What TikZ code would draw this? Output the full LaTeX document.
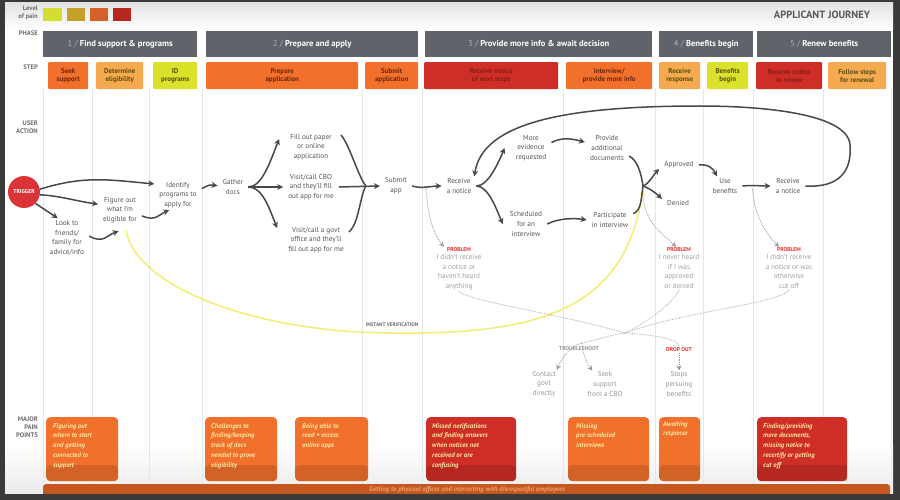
\documentclass[tikz,border=0pt]{standalone}
\usepackage{fontspec}
\setmainfont{PT Sans}
\usepackage{xcolor}
\definecolor{framegray}{RGB}{58,58,58}
\definecolor{phasegray}{RGB}{96,100,106}
\definecolor{phasenum}{RGB}{170,175,180}
\definecolor{lanegray}{RGB}{226,231,236}
\definecolor{painorange}{RGB}{240,112,44}
\definecolor{painlight}{RGB}{246,170,80}
\definecolor{painlime}{RGB}{218,226,44}
\definecolor{painred}{RGB}{206,46,38}
\definecolor{swatchlime}{RGB}{212,222,48}
\definecolor{swatchmustard}{RGB}{196,160,40}
\definecolor{swatchorange}{RGB}{214,96,40}
\definecolor{swatchred}{RGB}{182,40,32}
\definecolor{arrowgray}{RGB}{72,72,72}
\definecolor{actgray}{RGB}{85,85,85}
\definecolor{issuegray}{RGB}{160,160,160}
\definecolor{hintgray}{RGB}{150,150,150}
\definecolor{rowgray}{RGB}{110,110,110}
\definecolor{titlegray}{RGB}{90,90,90}
\definecolor{problemred}{RGB}{230,50,40}
\definecolor{triggerred}{RGB}{218,52,56}
\definecolor{verifyyellow}{RGB}{244,238,120}
\definecolor{verifytip}{RGB}{226,220,60}
\definecolor{creamtext}{RGB}{252,232,160}
\definecolor{barorange}{RGB}{196,88,30}
\definecolor{bartext}{RGB}{236,160,110}
\definecolor{stepdark}{RGB}{110,40,12}
\definecolor{stepolive}{RGB}{90,80,16}
\definecolor{stepred}{RGB}{140,28,20}
\usepackage{tikz}
\usetikzlibrary{arrows.meta}

\newcommand{\actfont}{\fontsize{7.2}{9.7}\selectfont}
\newcommand{\stepfont}{\bfseries\fontsize{7}{8.2}\selectfont}
\newcommand{\painfont}{\bfseries\itshape\fontsize{6.8}{9.8}\selectfont}
\newcommand{\tagfont}{\bfseries\fontsize{5.6}{6}\selectfont}
\newcommand{\rowfont}{\bfseries\fontsize{6.6}{8}\selectfont}
\newcommand{\phasefont}{\bfseries\fontsize{8.6}{10}\selectfont}

\begin{document}
\begin{tikzpicture}[x=1pt, y=-1pt, >=Stealth,
    flow/.style={->, line width=1.5pt, draw=arrowgray, >={Stealth[length=6pt,width=6pt]}},
    flowline/.style={line width=1.5pt, draw=arrowgray},
    hint/.style={->, densely dotted, line width=0.8pt, draw=hintgray, >={Stealth[length=5pt,width=5pt]}},
    hintline/.style={densely dotted, line width=0.8pt, draw=hintgray!80},
    verify/.style={->, line width=1.6pt, draw=verifyyellow, >={Stealth[length=7pt,width=6pt,fill=verifytip]}},
    lane/.style={draw=lanegray, line width=1pt},
    act/.style={font=\actfont, text=actgray, align=center, inner xsep=5pt, inner ysep=2pt},
    issue/.style={font=\actfont, text=issuegray, align=center, inner sep=1pt},
    tag/.style={font=\tagfont, inner sep=1pt},
    rowlabel/.style={font=\rowfont, text=rowgray, align=right, anchor=north east, inner sep=0pt},
    phasebar/.style={anchor=north west, fill=phasegray, text=white, font=\phasefont, minimum height=26pt, inner sep=0pt},
    stepbox/.style={anchor=north west, minimum height=27pt, inner sep=0pt, align=center, font=\stepfont, rounded corners=1pt},
    painbox/.style={anchor=north west, minimum height=64pt, inner sep=0pt, rounded corners=4pt,
      path picture={\fill[black, opacity=0.12] ([yshift=16pt]path picture bounding box.south west) rectangle (path picture bounding box.south east);}},
    paintext/.style={anchor=north west, align=left, font=\painfont, text=creamtext, inner sep=0pt}]
    \useasboundingbox (0,0) rectangle (900,500);
    \fill[framegray] (0,0) rectangle (900,500);
    \fill[white] (5,3) rectangle (893,494);
    \shade[top color=gray!22, bottom color=white] (5,3) rectangle (893,30);
    \shade[top color=white, bottom color=gray!16] (5,445) rectangle (893,494);
    \draw[lane] (43,89) -- (43,484) (92,89) -- (92,484) (149,89) -- (149,484) (202,89) -- (202,484)
      (362,89) -- (362,484) (422,89) -- (422,484) (563,89) -- (563,484) (655,89) -- (655,484)
      (703,89) -- (703,484) (753,89) -- (753,484) (823,89) -- (823,484) (891,89) -- (891,484);

    \node[rowlabel] (painlabel) at (38,6) {Level\\of pain};
    \fill[swatchlime] (43,8) rectangle (62,21);
    \fill[swatchmustard] (67,8) rectangle (85,21);
    \fill[swatchorange] (90,8) rectangle (108,21);
    \fill[swatchred] (113,8) rectangle (131,21);
    \node[font=\bfseries\fontsize{10.5}{12}\selectfont, text=titlegray] (title) at (822,15) {APPLICANT JOURNEY};

    \node[rowlabel] (phaselabel) at (38,31) {PHASE};
    \node[rowlabel] (steplabel) at (38,65) {STEP};
    \node[rowlabel] (actionlabel) at (38,121) {USER\\ACTION};
    \node[rowlabel] (majorlabel) at (38,417) {MAJOR\\PAIN\\POINTS};

    \node[phasebar, minimum width=154pt] (phase1) at (43,31) {{\color{phasenum}\mdseries 1 /} Find support \& programs};
    \node[phasebar, minimum width=212pt] (phase2) at (206,31) {{\color{phasenum}\mdseries 2 /} Prepare and apply};
    \node[phasebar, minimum width=227pt] (phase3) at (425,31) {{\color{phasenum}\mdseries 3 /} Provide more info \& await decision};
    \node[phasebar, minimum width=94pt] (phase4) at (659,31) {{\color{phasenum}\mdseries 4 /} Benefits begin};
    \node[phasebar, minimum width=134pt] (phase5) at (757,31) {{\color{phasenum}\mdseries 5 /} Renew benefits};

    \node[stepbox, fill=painorange, text=stepdark, minimum width=40pt] (seek) at (48,62) {Seek\\support};
    \node[stepbox, fill=painlight, text=stepolive, minimum width=47pt] (determine) at (96,62) {Determine\\eligibility};
    \node[stepbox, fill=painlime, text=stepolive, minimum width=44pt] (idprog) at (153,62) {ID\\programs};
    \node[stepbox, fill=painorange, text=stepdark, minimum width=152pt] (prepare) at (206,62) {Prepare\\application};
    \node[stepbox, fill=painorange, text=stepdark, minimum width=53pt] (submitstep) at (365,62) {Submit\\application};
    \node[stepbox, fill=painred, text=stepred, minimum width=134pt] (noticestep) at (424,62) {Receive notice\\of next steps};
    \node[stepbox, fill=painorange, text=stepdark, minimum width=86pt] (interview) at (566,62) {Interview/\\provide more info};
    \node[stepbox, fill=painlight, text=stepolive, minimum width=41pt] (response) at (659,62) {Receive\\response};
    \node[stepbox, fill=painlime, text=stepolive, minimum width=41pt] (begin) at (707,62) {Benefits\\begin};
    \node[stepbox, fill=painred, text=stepred, minimum width=66pt] (renew) at (756,62) {Receive notice\\to renew};
    \node[stepbox, fill=painlight, text=stepolive, minimum width=58pt] (renewal) at (828,62) {Follow steps\\for renewal};

    \node[circle, fill=triggerred, minimum size=32pt, inner sep=0pt, text=white, font=\tagfont] (trigger) at (24,192) {TRIGGER};
    \node[act] (lookto) at (67,238) {Look to\\friends/\\family for\\advice/info};
    \node[act] (figure) at (120,210) {Figure out\\what I'm\\eligible for};
    \node[act] (identify) at (178,195) {Identify\\programs to\\apply for};
    \node[act] (gather) at (233,187) {Gather\\docs};
    \node[act] (fillout) at (311,147) {Fill out paper\\or online\\application};
    \node[act] (visitcbo) at (311,187) {Visit/call CBO\\and they'll fill\\out app for me};
    \node[act] (visitgov) at (316,240) {Visit/call a govt\\office and they'll\\fill out app for me};
    \node[act] (submit) at (396,186) {Submit\\app};
    \node[act] (notice1) at (459,186) {Receive\\a notice};
    \node[act] (evidence) at (531,148) {More\\evidence\\requested};
    \node[act] (scheduled) at (526,224) {Scheduled\\for an\\interview};
    \node[act] (provide) at (607,148) {Provide\\additional\\documents};
    \node[act] (participate) at (610,220) {Participate\\in interview};
    \node[act] (approved) at (679,165) {Approved};
    \node[act] (denied) at (678,203) {Denied};
    \node[act] (usebenefits) at (725,186) {Use\\benefits};
    \node[act] (notice2) at (788,186) {Receive\\a notice};

    \node[tag, text=problemred] (prob1) at (459,250) {PROBLEM};
    \node[issue, anchor=north] (issue1) at (prob1.south) {I didn't receive\\a notice or\\haven't heard\\anything};
    \node[tag, text=problemred] (prob2) at (679,250) {PROBLEM};
    \node[issue, anchor=north] (issue2) at (prob2.south) {I never heard\\if I was\\approved\\or denied};
    \node[tag, text=problemred] (prob3) at (789,250) {PROBLEM};
    \node[issue, anchor=north] (issue3) at (prob3.south) {I didn't receive\\a notice or was\\otherwise\\cut off};

    \node[tag, text=hintgray] (troubleshoot) at (579,349) {TROUBLESHOOT};
    \node[tag, text=problemred] (dropout) at (679,350) {DROP OUT};
    \node[issue, text=hintgray] (contact) at (544,384) {Contact\\govt\\directly};
    \node[issue, text=hintgray] (seekcbo) at (605,384) {Seek\\support\\from a CBO};
    \node[issue, text=hintgray] (stops) at (679,384) {Stops\\persuing\\benefits};

    \coordinate (join1) at ([xshift=-14pt]submit.west);
    \coordinate (decide) at (643,186);
    \coordinate (probsrc1) at ([xshift=14pt,yshift=-3pt]submit.east);
    \coordinate (probsrc3) at ([xshift=10pt,yshift=-3pt]usebenefits.east);
    \coordinate (loopright) at (850,145);
    \coordinate (looptop) at (700,106);
    \coordinate (verifylow) at (390,333);
    \coordinate (hub) at (625,333);
    \coordinate (tsplit) at (582,343);

    \draw[verify] ([xshift=2pt,yshift=-5pt]figure.-75) .. controls (135,285) and (250,332) .. (verifylow) .. controls (540,335) and (625,310) .. ([yshift=-3pt]decide);
    \node[tag, font=\bfseries\fontsize{5.2}{6}\selectfont, text=rowgray] (verifylabel) at (392,325) {INSTANT VERIFICATION};

    \draw[flow] (trigger.10) .. controls +(45,-14) and +(-45,-4) .. (identify.155);
    \draw[flow] (trigger.-10) .. controls +(20,1) and +(-22,-3) .. (figure.165);
    \draw[flow] (trigger.-45) -- (lookto.115);
    \draw[flow] (lookto.5) .. controls +(14,8) and +(-12,4) .. ([yshift=-6pt]figure.-95);
    \draw[flow] (figure.-15) .. controls +(14,6) and +(-10,4) .. (identify.-120);
    \draw[flow] (identify.15) .. controls +(8,-4) and +(-8,-1) .. (gather.175);
    \draw[flow] (gather.east) .. controls +(14,0) and +(-8,20) .. ([xshift=-6pt,yshift=8pt]fillout.west);
    \draw[flow] (gather.east) -- (visitcbo.west);
    \draw[flow] (gather.east) .. controls +(14,0) and +(-8,-20) .. ([xshift=-6pt,yshift=12pt]visitgov.west);
    \draw[flowline] ([xshift=4pt,yshift=12pt]fillout.east) .. controls +(8,8) and +(-8,-10) .. (join1);
    \draw[flow] (visitcbo.east) -- (submit.west);
    \draw[flowline] ([yshift=8pt]visitgov.east) .. controls +(10,-8) and +(-6,10) .. (join1);
    \draw[flow] (submit.east) .. controls +(10,3) and +(-10,0) .. (notice1.west);
    \draw[flow] (notice1.east) .. controls +(12,0) and +(-6,14) .. ([xshift=-6pt]evidence.west);
    \draw[flow] (notice1.east) .. controls +(12,0) and +(-6,-14) .. ([xshift=-2pt]scheduled.west);
    \draw[flow] (evidence.15) .. controls +(12,-6) and +(-12,-3) .. (provide.165);
    \draw[flow] (scheduled.east) .. controls +(12,-6) and +(-12,-2) .. (participate.west);
    \draw[flowline] (provide.-20) .. controls +(8,4) and +(-2,-14) .. (decide);
    \draw[flowline] (participate.15) .. controls +(8,-4) and +(-2,14) .. (decide);
    \draw[flow] (decide) .. controls +(6,-2) and +(-6,6) .. ([yshift=-4pt]approved.west);
    \draw[flow] (decide) .. controls +(6,2) and +(-6,-6) .. ([yshift=4pt]denied.west);
    \draw[flow] (approved.east) .. controls +(10,-1) and +(-4,-8) .. (usebenefits.130);
    \draw[flow] (usebenefits.east) .. controls +(10,-1) and +(-10,0) .. (notice2.west);
    \draw[flow] (notice2.east) .. controls +(35,2) and +(2,25) .. (loopright) .. controls +(-2,-32) and +(60,0) .. (looptop) .. controls +(-130,0) and +(8,-55) .. ([xshift=-2pt]notice1.north east);

    \draw[hint] (probsrc1) .. controls +(2,30) and +(-10,-12) .. ([xshift=-2pt]prob1.north west);
    \draw[hint] ([yshift=-10pt]decide) .. controls +(2,28) and +(-12,-12) .. ([xshift=-3pt]prob2.north);
    \draw[hint] (probsrc3) .. controls +(2,28) and +(-12,-12) .. ([xshift=-10pt]prob3.north);
    \draw[hintline] (issue1.south) .. controls +(10,10) and +(-60,-18) .. (hub);
    \draw[hintline] (issue2.south) .. controls +(-5,12) and +(25,-12) .. (hub);
    \draw[hintline] (issue3.south) .. controls +(-10,14) and +(60,-22) .. (hub);
    \draw[hintline] (hub) .. controls +(-15,2) and +(15,-3) .. (tsplit);
    \draw[hint] (tsplit) .. controls +(-12,3) and +(4,-10) .. (contact.north east);
    \draw[hint] (tsplit) .. controls +(0,8) and +(-6,-8) .. ([xshift=6pt]seekcbo.north west);
    \draw[hintline] (hub) .. controls +(30,2) and +(0,-8) .. (dropout.north);
    \draw[hint] (dropout.south) -- (stops.north);

    \node[painbox, fill=painorange, minimum width=72pt] (pain1) at (46,417) {};
    \node[paintext] (pain1text) at ([xshift=7pt,yshift=-6pt]pain1.north west) {Figuring out\\where to start\\and getting\\connected to\\support};
    \node[painbox, fill=painorange, minimum width=72pt] (pain2) at (205,417) {};
    \node[paintext] (pain2text) at ([xshift=6pt,yshift=-6pt]pain2.north west) {Challenges to\\finding/keeping\\track of docs\\needed to prove\\eligibility};
    \node[painbox, fill=painorange, minimum width=73pt] (pain3) at (295,417) {};
    \node[paintext] (pain3text) at ([xshift=7pt,yshift=-6pt]pain3.north west) {Being able to\\read + access\\online apps};
    \node[painbox, fill=painred, minimum width=90pt] (pain4) at (426,417) {};
    \node[paintext] (pain4text) at ([xshift=6pt,yshift=-6pt]pain4.north west) {Missed notifications\\and finding answers\\when notices not\\received or are\\confusing};
    \node[painbox, fill=painorange, minimum width=81pt] (pain5) at (568,417) {};
    \node[paintext] (pain5text) at ([xshift=8pt,yshift=-6pt]pain5.north west) {Missing\\pre-scheduled\\interviews};
    \node[painbox, fill=painorange, minimum width=41pt] (pain6) at (659,417) {};
    \node[paintext] (pain6text) at ([xshift=4pt,yshift=-4pt]pain6.north west) {Awaiting\\response};
    \node[painbox, fill=painred, minimum width=90pt] (pain7) at (757,417) {};
    \node[paintext] (pain7text) at ([xshift=6pt,yshift=-6pt]pain7.north west) {Finding/providing\\more documents,\\missing notice to\\recertify or getting\\cut off};

    \fill[barorange, rounded corners=3pt] (43,484) rectangle (890,498);
    \node[font=\painfont, text=bartext, inner sep=0pt] (barnote) at (467,490) {Getting to physical offices and interacting with disrespectful employees};
    \fill[framegray] (0,494) rectangle (900,500);
\end{tikzpicture}
\end{document}
